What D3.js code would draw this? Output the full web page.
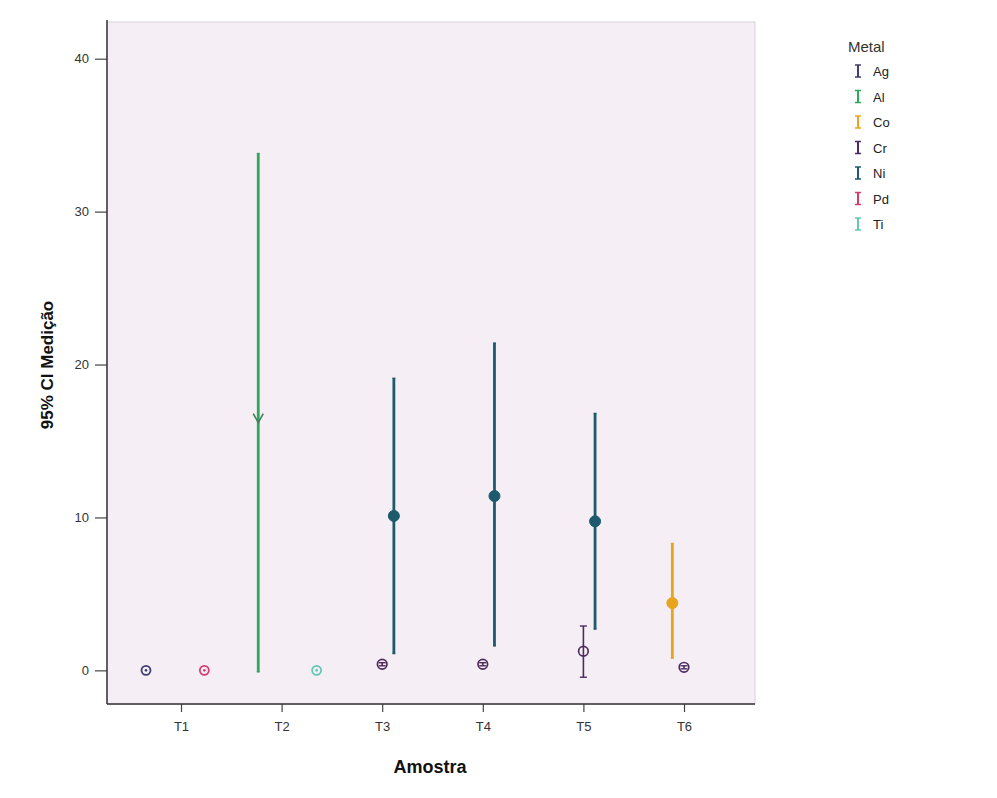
<!DOCTYPE html>
<html><head><meta charset="utf-8">
<script src="https://cdn.jsdelivr.net/npm/d3@7"></script>
<style>body{margin:0;background:#fff;} text{font-family:"Liberation Sans",Arial,sans-serif;}</style>
</head><body>
<svg id="c" width="997" height="798"></svg>
<script>
const samples = ["T1","T2","T3","T4","T5","T6"];
const metals = ["Ag","Al","Co","Cr","Ni","Pd","Ti"];
const metalColors = ["#3f3c6e","#2fa85a","#e8a41c","#4e2b5e","#1d5a6c","#d63c6a","#62c7b3"];
const yTicks = [0,10,20,30,40];
const pointSample = ["T1","T1","T2","T2","T3","T3","T4","T4","T5","T5","T6","T6"];
const pointMetal  = ["Ag","Pd","Al","Ti","Cr","Ni","Cr","Ni","Cr","Ni","Co","Cr"];
const pointMean   = [0.0, 0.0, 16.4, 0.0, 0.4, 10.1, 0.4, 11.4, 1.25, 9.75, 4.4, 0.2];
const pointLower  = [-0.05,-0.05,-0.1,-0.05, 0.3, 1.1, 0.3, 1.6, -0.45, 2.7, 0.8, 0.1];
const pointUpper  = [0.05, 0.05, 33.8, 0.05, 0.5, 19.1, 0.5, 21.4, 2.9, 16.8, 8.3, 0.3];

const svg = d3.select("#c");
const L=107, R=755, T=22, B=704;
const y = d3.scaleLinear().domain([-2.2, 42.4]).range([B, T]);
const x = d3.scalePoint().domain(samples).range([181, 684]);
const dodge = d3.scalePoint().domain(metals).range([-35, 35]);
const color = d3.scaleOrdinal().domain(metals).range(metalColors);

svg.append("rect").attr("x",L).attr("y",T).attr("width",R-L).attr("height",B-T)
  .attr("fill","#f6eef5").attr("stroke","#d8d2d8").attr("stroke-width",1);

const yAxis = svg.append("g").attr("transform",`translate(${L},0)`)
  .call(d3.axisLeft(y).tickValues(yTicks).tickSize(12).tickPadding(6));
const xAxis = svg.append("g").attr("transform",`translate(0,${B})`)
  .call(d3.axisBottom(x).tickSize(8).tickPadding(10));
[yAxis,xAxis].forEach(g=>{
  g.select(".domain").remove();
  g.selectAll("line").attr("stroke","#444").attr("stroke-width",1.2);
  g.selectAll("text").attr("font-size",13).attr("fill","#333").style("font-family","Liberation Sans, Arial, sans-serif");
});
svg.append("line").attr("x1",L).attr("x2",L).attr("y1",T-2).attr("y2",B).attr("stroke","#333").attr("stroke-width",1.5);
svg.append("line").attr("x1",L).attr("x2",R).attr("y1",B).attr("y2",B).attr("stroke","#333").attr("stroke-width",1.5);

const filled = new Set(["Ni","Co"]);
const pts = pointSample.map((s,i)=>({s, m:pointMetal[i], mean:pointMean[i], lo:pointLower[i], hi:pointUpper[i]}));
const g = svg.append("g");
pts.forEach(p=>{
  const cx = x(p.s)+dodge(p.m), c = color(p.m);
  const thick = filled.has(p.m) || p.m==="Al";
  const cap = thick ? 1.5 : 3.5;
  g.append("line").attr("x1",cx).attr("x2",cx).attr("y1",y(p.lo)).attr("y2",y(p.hi))
    .attr("stroke",c).attr("stroke-width",thick?2.8:1.6);
  [p.lo,p.hi].forEach(v=>g.append("line").attr("x1",cx-cap).attr("x2",cx+cap).attr("y1",y(v)).attr("y2",y(v)).attr("stroke",c).attr("stroke-width",1.4));
  if (p.m==="Al") {
    const my=y(p.mean);
    g.append("path").attr("d",`M${cx-5},${my-6}L${cx},${my+3}L${cx+5},${my-6}`).attr("fill","none").attr("stroke","#3f7f5c").attr("stroke-width",1.6);
  } else if (filled.has(p.m)) {
    g.append("circle").attr("cx",cx).attr("cy",y(p.mean)).attr("r",5.5).attr("fill",c).attr("stroke",c);
  } else if (p.m==="Cr") {
    g.append("circle").attr("cx",cx).attr("cy",y(p.mean)).attr("r",4.8).attr("fill","none").attr("stroke",c).attr("stroke-width",1.7);
  } else {
    g.append("circle").attr("cx",cx).attr("cy",y(p.mean)).attr("r",4.5).attr("fill","#f3eef6").attr("stroke",c).attr("stroke-width",1.8);
    g.append("circle").attr("cx",cx).attr("cy",y(p.mean)).attr("r",1.3).attr("fill",c);
  }
});

svg.append("text").attr("x",430).attr("y",773).attr("text-anchor","middle")
  .attr("font-size",18).attr("font-weight","bold").attr("fill","#111").text("Amostra");
svg.append("text").attr("transform","translate(53,365) rotate(-90)").attr("text-anchor","middle")
  .attr("font-size",17).attr("font-weight","bold").attr("fill","#111").text("95% CI Medição");

const lg = svg.append("g");
lg.append("text").attr("x",848).attr("y",52).attr("font-size",15).attr("fill","#333").text("Metal");
metals.forEach((m,i)=>{
  const yy = 71 + i*25.5, c=color(m);
  lg.append("line").attr("x1",858).attr("x2",858).attr("y1",yy-6).attr("y2",yy+6).attr("stroke",c).attr("stroke-width",2);
  [yy-6,yy+6].forEach(v=>lg.append("line").attr("x1",855).attr("x2",861).attr("y1",v).attr("y2",v).attr("stroke",c).attr("stroke-width",1.5));
  lg.append("text").attr("x",873).attr("y",yy+5).attr("font-size",13).attr("fill","#222").text(m);
});
</script>
</body></html>
